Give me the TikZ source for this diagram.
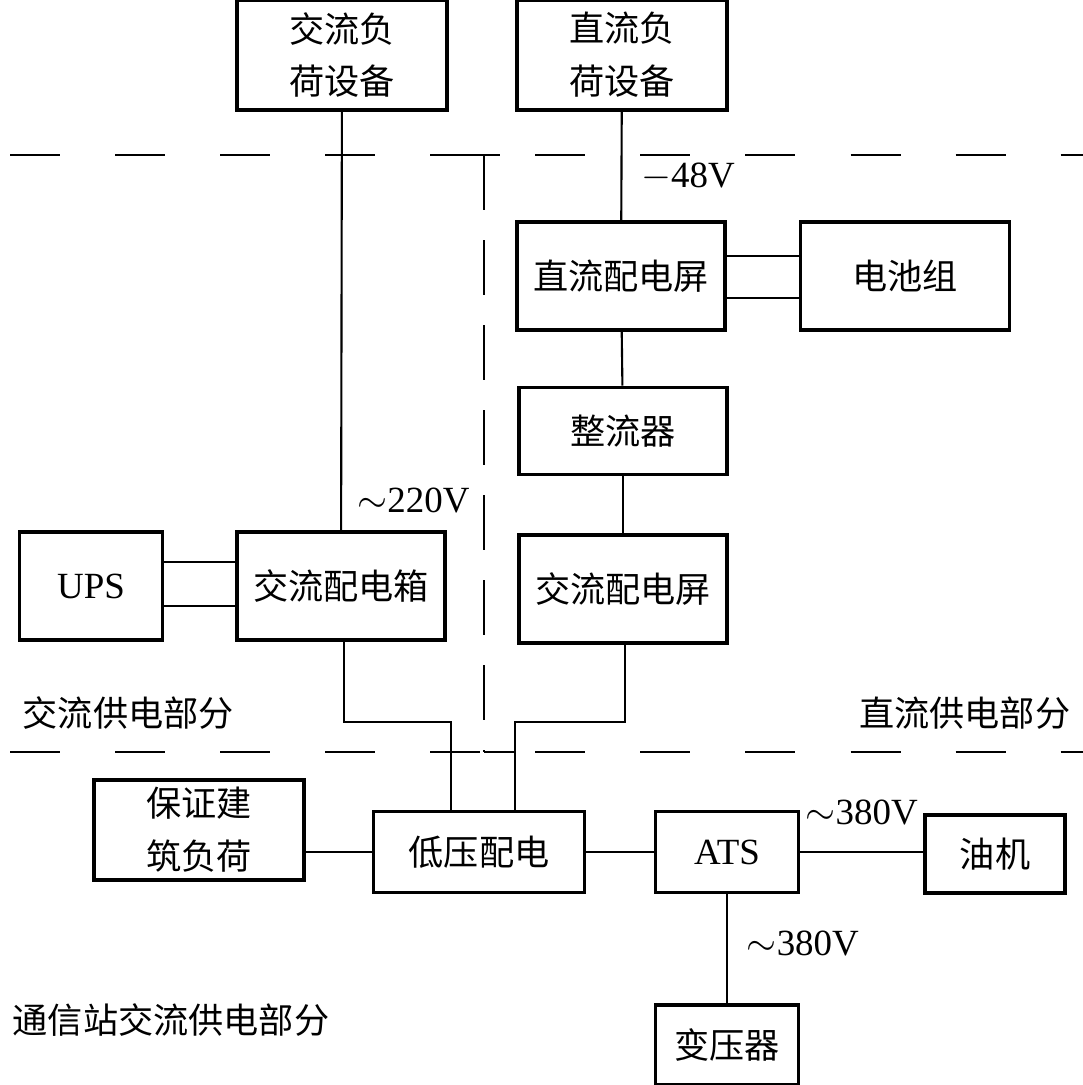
\documentclass[tikz,border=0pt]{standalone}
\usepackage{fontspec}
\setmainfont{Liberation Serif}
\newfontfamily\cjk{Noto Sans CJK SC}
\begin{document}
\begin{tikzpicture}[x=0.01cm,y=-0.01cm,line width=0.6pt]

\tikzset{blk/.style={draw, line width=1pt, rectangle, inner sep=0pt, align=center, font=\fontsize{10}{15}\selectfont\cjk}}
\tikzset{lbl/.style={font=\fontsize{10.5}{12}\selectfont}}
\tikzset{sep/.style={dash pattern=on 0.5cm off 0.55cm}}

\useasboundingbox (0,0) rectangle (1083,1085);

% boxes
\node[blk, minimum width=2.1cm, minimum height=1.1cm] at (342, 55) (acload) {交流负\\荷设备};
\node[blk, minimum width=2.1cm, minimum height=1.1cm] at (622, 55) (dcload) {直流负\\荷设备};
\node[blk, minimum width=2.08cm, minimum height=1.08cm] at (621,276) (dcpanel) {直流配电屏};
\node[blk, minimum width=2.09cm, minimum height=1.08cm] at (905,276) (battery) {电池组};
\node[blk, minimum width=2.08cm, minimum height=0.87cm] at (623,431) (rectifier) {整流器};
\node[blk, minimum width=2.08cm, minimum height=1.08cm] at (623,589) (acpanel) {交流配电屏};
\node[blk, minimum width=2.08cm, minimum height=1.08cm] at (341,586) (acbox) {交流配电箱};
\node[blk, minimum width=1.43cm, minimum height=1.08cm, font=\fontsize{10.5}{12}\selectfont] at (91,586) (ups) {UPS};
\node[blk, minimum width=2.1cm, minimum height=1.0cm] at (199,830) (bldload) {保证建\\筑负荷};
\node[blk, minimum width=2.11cm, minimum height=0.81cm] at (479,852) (lowvolt) {低压配电};
\node[blk, minimum width=1.43cm, minimum height=0.81cm, font=\fontsize{10.5}{12}\selectfont] at (727,852) (ats) {ATS};
\node[blk, minimum width=1.4cm, minimum height=0.78cm] at (995,854) (diesel) {油机};
\node[blk, minimum width=1.43cm, minimum height=0.8cm] at (727,1045) (trans) {变压器};

% section lines
\draw[sep] (10,155) -- (1083,155);
\draw[sep] (10,752) -- (1083,752);
\draw[dash pattern=on 0.55cm off 0.3cm] (484,155) -- (484,752);
\draw (468,155) -- (500,155);
\coordinate (tick) at (484,752);

% connections
\draw (acload) -- (acbox) node[lbl, pos=0.93, right=1pt] {$\sim$220V};
\draw (dcload) -- (dcpanel) node[lbl, pos=0.6, right=2pt] {$-$48V};
\draw ([yshift=-0.22cm]dcpanel.east) -- ([yshift=-0.22cm]battery.west);
\draw ([yshift=0.2cm]dcpanel.east) -- ([yshift=0.2cm]battery.west);
\draw (dcpanel) -- (rectifier);
\draw (rectifier) -- (acpanel);
\draw ([yshift=-0.2cm]ups.east) -- ([yshift=-0.2cm]acbox.west);
\draw ([yshift=0.24cm]ups.east) -- ([yshift=0.24cm]acbox.west);
\draw (344,640) -- (344,722) -- (451,722) -- (451,812);
\draw (625,643) -- (625,722) -- (515,722) -- (515,812);
\draw (tick) -- (515,752);
\draw (bldload.east |- lowvolt) -- (lowvolt);
\draw (lowvolt) -- (ats);
\draw (ats) -- (diesel.west |- ats) node[lbl, pos=0.5, above=4pt] {$\sim$380V};
\draw (ats) -- (trans) node[lbl, pos=0.45, right=2pt] {$\sim$380V};

% section titles
\node[lbl, font=\fontsize{10}{12}\selectfont\cjk, anchor=west] at (10,713) (acpart) {交流供电部分};
\node[lbl, font=\fontsize{10}{12}\selectfont\cjk, anchor=east] at (1083,713) (dcpart) {直流供电部分};
\node[lbl, font=\fontsize{10}{12}\selectfont\cjk, anchor=west] at (0,1020) (station) {通信站交流供电部分};

\end{tikzpicture}
\end{document}
